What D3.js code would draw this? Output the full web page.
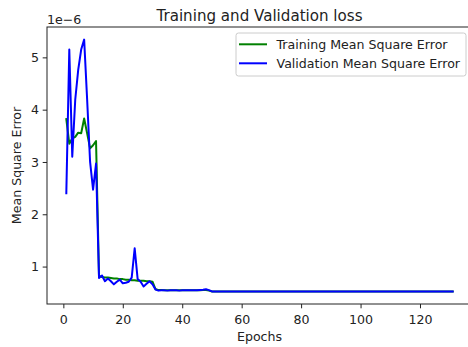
<!DOCTYPE html>
<html>
<head>
<meta charset="utf-8">
<script src="https://cdn.jsdelivr.net/npm/d3@7"></script>
<style>
body { margin: 0; background: #fff; }
svg { display: block; font-family: "DejaVu Sans", sans-serif; }
</style>
</head>
<body>
<script>
// values are in units of 1e-6 (matplotlib offset text)
var trainMse = [
    3.82, 3.35, 3.45, 3.48, 3.56, 3.55, 3.83, 3.55, 3.26, 3.32, 3.40,
    0.82, 0.80, 0.79, 0.79, 0.78, 0.77, 0.77, 0.76, 0.76, 0.75, 0.75, 0.74, 0.74, 0.73, 0.73, 0.73, 0.72, 0.72, 0.71, 0.57,
    0.55, 0.55, 0.545, 0.545, 0.545, 0.545, 0.545, 0.545, 0.545, 0.545, 0.545, 0.545, 0.545, 0.545, 0.545, 0.55, 0.55, 0.54,
    0.525, 0.525, 0.525, 0.525, 0.525, 0.525, 0.525, 0.525, 0.525, 0.525,
    0.525, 0.525, 0.525, 0.525, 0.525, 0.525, 0.525, 0.525, 0.525, 0.525,
    0.525, 0.525, 0.525, 0.525, 0.525, 0.525, 0.525, 0.525, 0.525, 0.525,
    0.525, 0.525, 0.525, 0.525, 0.525, 0.525, 0.525, 0.525, 0.525, 0.525,
    0.525, 0.525, 0.525, 0.525, 0.525, 0.525, 0.525, 0.525, 0.525, 0.525,
    0.525, 0.525, 0.525, 0.525, 0.525, 0.525, 0.525, 0.525, 0.525, 0.525,
    0.525, 0.525, 0.525, 0.525, 0.525, 0.525, 0.525, 0.525, 0.525, 0.525,
    0.525, 0.525, 0.525, 0.525, 0.525, 0.525, 0.525, 0.525, 0.525, 0.525,
    0.525, 0.525
];
var valMse = [
    2.40, 5.15, 3.10, 4.19, 4.76, 5.15, 5.34, 4.20, 3.00, 2.47, 2.97,
    0.78, 0.83, 0.72, 0.77, 0.72, 0.66, 0.71, 0.75, 0.68, 0.69, 0.71, 0.79, 1.35, 0.76, 0.71, 0.62, 0.67, 0.72, 0.66, 0.56,
    0.54, 0.545, 0.545, 0.54, 0.545, 0.545, 0.545, 0.54, 0.545, 0.545, 0.545, 0.545, 0.545, 0.545, 0.55, 0.555, 0.565, 0.55,
    0.525, 0.525, 0.525, 0.525, 0.525, 0.525, 0.525, 0.525, 0.525, 0.525,
    0.525, 0.525, 0.525, 0.525, 0.525, 0.525, 0.525, 0.525, 0.525, 0.525,
    0.525, 0.525, 0.525, 0.525, 0.525, 0.525, 0.525, 0.525, 0.525, 0.525,
    0.525, 0.525, 0.525, 0.525, 0.525, 0.525, 0.525, 0.525, 0.525, 0.525,
    0.525, 0.525, 0.525, 0.525, 0.525, 0.525, 0.525, 0.525, 0.525, 0.525,
    0.525, 0.525, 0.525, 0.525, 0.525, 0.525, 0.525, 0.525, 0.525, 0.525,
    0.525, 0.525, 0.525, 0.525, 0.525, 0.525, 0.525, 0.525, 0.525, 0.525,
    0.525, 0.525, 0.525, 0.525, 0.525, 0.525, 0.525, 0.525, 0.525, 0.525,
    0.525, 0.525
];
var epochs = d3.range(1, trainMse.length + 1);
var xTicks = [0, 20, 40, 60, 80, 100, 120];
var yTicks = [1, 2, 3, 4, 5];
var seriesNames = ["Training Mean Square Error", "Validation Mean Square Error"];
var seriesColors = ["#008000", "#0000ff"];

var width = 468, height = 347;
var margin = {top: 27, right: -4, bottom: 43, left: 47};
var fs = 12.6;
var txt = "#222";

var svg = d3.select("body").append("svg")
    .attr("width", width)
    .attr("height", height);

// matplotlib style 5% margins
var xr = d3.extent(epochs), xPad = (xr[1] - xr[0]) * 0.05;
var allY = trainMse.concat(valMse);
var yr = d3.extent(allY), yPad = (yr[1] - yr[0]) * 0.05;

var x = d3.scaleLinear()
    .domain([xr[0] - xPad, xr[1] + xPad])
    .range([margin.left, width - margin.right]);
var y = d3.scaleLinear()
    .domain([yr[0] - yPad, yr[1] + yPad])
    .range([height - margin.bottom, margin.top]);

var line = d3.line()
    .x((d, i) => x(epochs[i]))
    .y(d => y(d));

[trainMse, valMse].forEach(function(s, k) {
    svg.append("path")
        .datum(s)
        .attr("fill", "none")
        .attr("stroke", seriesColors[k])
        .attr("stroke-width", 2)
        .attr("stroke-linejoin", "round")
        .attr("stroke-linecap", "square")
        .attr("d", line);
});

// axes
var xAxis = svg.append("g")
    .attr("transform", "translate(0," + (height - margin.bottom) + ")")
    .call(d3.axisBottom(x).tickValues(xTicks).tickSize(4.3).tickPadding(7).tickFormat(d3.format("d")));
var yAxis = svg.append("g")
    .attr("transform", "translate(" + margin.left + ",0)")
    .call(d3.axisLeft(y).tickValues(yTicks).tickSize(4.3).tickPadding(3.8).tickFormat(d3.format("d")));

[xAxis, yAxis].forEach(function(g) {
    g.select(".domain").remove();
    g.selectAll(".tick line").attr("stroke", txt).attr("stroke-width", 1);
    g.selectAll(".tick text").attr("fill", txt).attr("font-size", fs)
        .attr("font-family", "DejaVu Sans, sans-serif");
});

// spines
svg.append("rect")
    .attr("x", margin.left)
    .attr("y", margin.top)
    .attr("width", width - margin.right - margin.left)
    .attr("height", height - margin.bottom - margin.top)
    .attr("fill", "none")
    .attr("stroke", txt)
    .attr("stroke-width", 1);

var cx = (margin.left + width - margin.right) / 2;

svg.append("text")
    .text("Training and Validation loss")
    .attr("x", cx)
    .attr("y", 20.5)
    .attr("text-anchor", "middle")
    .attr("font-size", 15.1)
    .attr("fill", txt);

svg.append("text")
    .text("1e\u22126")
    .attr("x", margin.left)
    .attr("y", 23.5)
    .attr("font-size", fs)
    .attr("fill", txt);

svg.append("text")
    .text("Epochs")
    .attr("x", cx)
    .attr("y", 340.5)
    .attr("text-anchor", "middle")
    .attr("font-size", fs)
    .attr("fill", txt);

svg.append("text")
    .text("Mean Square Error")
    .attr("transform", "translate(20.5," + ((margin.top + height - margin.bottom) / 2) + ") rotate(-90)")
    .attr("text-anchor", "middle")
    .attr("font-size", fs)
    .attr("fill", txt);

// legend, upper right
var legendRight = width - margin.right - 6;
var legend = svg.append("g");
legend.append("rect")
    .attr("x", 236)
    .attr("y", 33)
    .attr("width", legendRight - 236)
    .attr("height", 43)
    .attr("rx", 2.5)
    .attr("fill", "#fff")
    .attr("fill-opacity", 0.8)
    .attr("stroke", "#cccccc")
    .attr("stroke-width", 1);

seriesNames.forEach(function(name, i) {
    var ly = 44.3 + i * 19;
    legend.append("line")
        .attr("x1", 240).attr("x2", 266)
        .attr("y1", ly).attr("y2", ly)
        .attr("stroke", seriesColors[i])
        .attr("stroke-width", 2)
        .attr("stroke-linecap", "square");
    legend.append("text")
        .text(name)
        .attr("x", 276.5)
        .attr("y", ly + 4.4)
        .attr("font-size", fs)
        .attr("fill", txt);
});
</script>
</body>
</html>
